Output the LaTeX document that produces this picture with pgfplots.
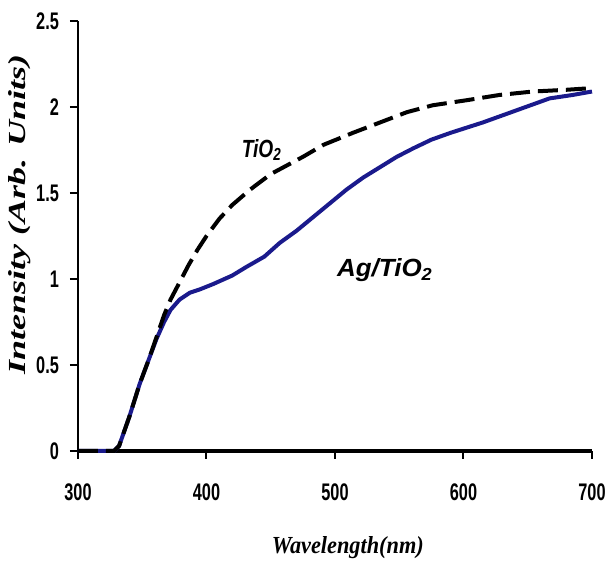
\documentclass[border=0pt]{standalone}
\usepackage{fontspec}
\setmainfont{Liberation Serif}
\setsansfont{Liberation Sans}
\usepackage{pgfplots}
\pgfplotsset{compat=1.18}
\definecolor{agblue}{RGB}{26,26,140}
\newcommand{\tickf}[1]{\fontsize{12}{12}\selectfont\sffamily\bfseries\scalebox{0.68}[1]{#1}}
\begin{document}
\begin{tikzpicture}
\useasboundingbox (-39pt,-58pt) rectangle (264pt,225.5pt);
\begin{axis}[
  at={(0,0)}, anchor=south west,
  scale only axis, width=257pt, height=215pt,
  xmin=300, xmax=700, ymin=0, ymax=2.5,
  axis lines*=left,
  clip=false,
  x axis line style={line width=2pt},
  y axis line style={line width=1.2pt},
  tick align=outside,
  major tick length=4pt,
  tick style={black, line width=1pt},
  xtick={300,400,500,600,700},
  ytick={0,0.5,1,1.5,2,2.5},
  xticklabel={\tickf{\pgfmathprintnumber[assume math mode=true]{\tick}}},
  yticklabel={\tickf{\pgfmathprintnumber[assume math mode=true]{\tick}}},
  xticklabel style={yshift=-9pt},
  yticklabel style={xshift=-2pt},
  xlabel={\resizebox{76pt}{8.5pt}{\bfseries\itshape Wavelength(nm)}},
  xlabel style={at={(axis description cs:0.525,0)}, anchor=center, yshift=-48.5pt},
  ylabel={\resizebox{160pt}{8.5pt}{\bfseries\itshape Intensity (Arb. Units)}},
  ylabel style={at={(axis description cs:0,0.549)}, anchor=center, yshift=29pt},
]
\addplot[agblue, line width=2pt] coordinates {
(300,0) (328,0) (332,0.03) (340,0.2) (348,0.39) (355,0.53) (361,0.65) (367,0.75) (372,0.82) (379,0.88) (387,0.92) (395,0.94) (405,0.97) (420,1.02) (431,1.07) (445,1.13) (457,1.21) (470,1.28) (483,1.36) (496,1.44) (509,1.52) (522,1.59) (535,1.65) (548,1.71) (561,1.76) (575,1.81) (590,1.85) (615,1.91) (641,1.98) (667,2.05) (685,2.07) (700,2.09)
};
\addplot[black, line width=2pt, dash pattern=on 10pt off 4pt] coordinates {
(300,0) (328,0) (332,0.03) (340,0.2) (348,0.39) (355,0.53) (361,0.66) (367,0.79) (372,0.88) (379,0.98) (386,1.08) (393,1.17) (400,1.25) (410,1.35) (420,1.43) (434,1.52) (450,1.61) (475,1.71) (491,1.78) (514,1.85) (535,1.91) (556,1.97) (576,2.01) (603,2.04) (628,2.07) (654,2.09) (680,2.1) (700,2.11)
};
\node at (axis cs:443,1.75) {\resizebox{20pt}{9pt}{\sffamily\bfseries\itshape TiO\textsubscript{2}}};
\node at (axis cs:539,1.05) {\resizebox{48pt}{9pt}{\sffamily\bfseries\itshape Ag/TiO\textsubscript{2}}};
\end{axis}
\end{tikzpicture}
\end{document}
